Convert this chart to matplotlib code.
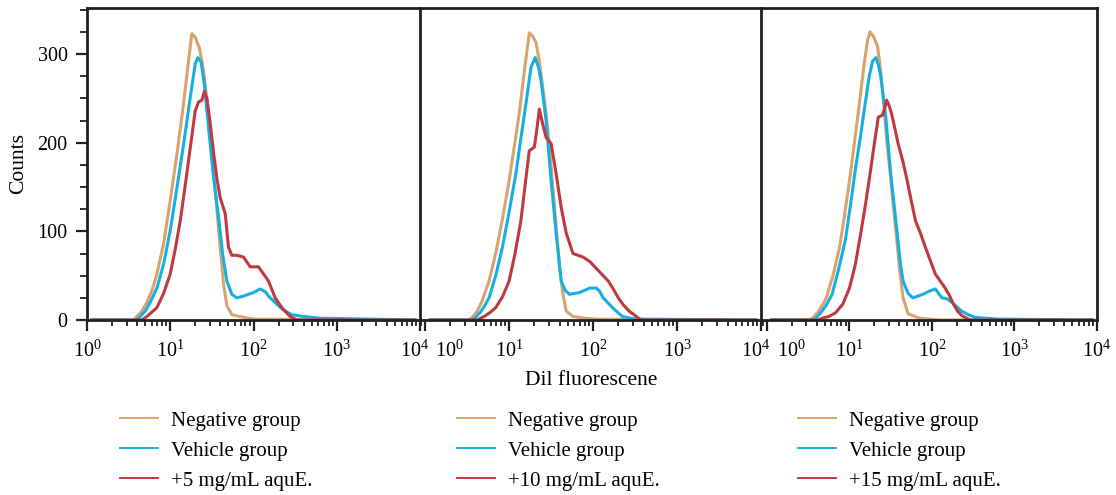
import numpy as np
import matplotlib
matplotlib.use("Agg")
import matplotlib.pyplot as plt
from matplotlib.lines import Line2D
from matplotlib.ticker import FixedLocator, MultipleLocator, LogLocator, NullFormatter
import matplotlib.transforms as mtransforms

plt.rcParams['font.family'] = 'serif'
plt.rcParams['font.serif'] = ['Liberation Serif', 'DejaVu Serif']
plt.rcParams['mathtext.fontset'] = 'custom'
plt.rcParams['mathtext.rm'] = 'Liberation Serif'

# histogram traces: log10(fluorescence) positions and counts
neg1_x = [0.05, 0.56, 0.60, 0.66, 0.72, 0.78, 0.84, 0.92, 1.00, 1.08, 1.16, 1.22, 1.26, 1.30, 1.35, 1.40, 1.45,
          1.50, 1.55, 1.60, 1.64, 1.68, 1.74, 1.88, 2.00, 3.95]
neg1_y = [0, 0, 4, 10, 20, 33, 52, 86, 135, 187, 244, 293, 323, 319, 307, 281, 240,
          187, 135, 82, 41, 16, 6, 3, 1, 0]
veh1_x = [0.05, 0.60, 0.64, 0.70, 0.76, 0.84, 0.92, 1.00, 1.08, 1.16, 1.24, 1.30, 1.33, 1.37, 1.41, 1.46, 1.52,
          1.58, 1.63, 1.68, 1.74, 1.80, 1.88, 2.00, 2.08, 2.14, 2.20, 2.28, 2.36, 2.46, 2.60, 2.80, 3.95]
veh1_y = [0, 0, 4, 10, 20, 36, 63, 101, 149, 198, 251, 289, 296, 291, 266, 217, 161,
          116, 74, 44, 29, 25, 27, 31, 35, 32, 25, 18, 11, 6, 4, 2, 0]
trt1_x = [0.05, 0.66, 0.72, 0.78, 0.84, 0.92, 1.00, 1.06, 1.12, 1.17, 1.22, 1.26, 1.30, 1.34, 1.38, 1.41, 1.44,
          1.48, 1.52, 1.56, 1.60, 1.66, 1.70, 1.74, 1.80, 1.88, 1.96, 2.06, 2.12, 2.18, 2.26, 2.34, 2.44, 2.52, 3.95]
trt1_y = [0, 0, 4, 9, 14, 30, 52, 80, 112, 145, 180, 208, 236, 246, 248, 258, 250,
          222, 189, 160, 138, 120, 82, 73, 73, 71, 60, 60, 52, 44, 25, 14, 4, 0, 0]

neg2_x = [0.05, 0.52, 0.56, 0.62, 0.68, 0.76, 0.84, 0.92, 1.00, 1.06, 1.12, 1.18, 1.24, 1.28, 1.32, 1.36, 1.40,
          1.44, 1.48, 1.52, 1.56, 1.60, 1.64, 1.68, 1.76, 1.90, 2.04, 3.95]
neg2_y = [0, 0, 3, 10, 22, 44, 75, 114, 157, 195, 233, 280, 324, 320, 313, 292, 263,
          232, 196, 150, 105, 60, 30, 10, 4, 2, 1, 0]
veh2_x = [0.05, 0.56, 0.60, 0.66, 0.72, 0.76, 0.84, 0.92, 1.00, 1.08, 1.14, 1.20, 1.26, 1.31, 1.35, 1.38, 1.44,
          1.50, 1.56, 1.62, 1.67, 1.72, 1.84, 1.96, 2.04, 2.08, 2.12, 2.18, 2.23, 2.30, 2.35, 2.50, 3.95]
veh2_y = [0, 0, 3, 9, 18, 25, 50, 82, 122, 165, 205, 244, 285, 296, 285, 270, 225,
          157, 98, 44, 33, 29, 31, 36, 36, 32, 25, 19, 14, 8, 4, 1, 0]
trt2_x = [0.05, 0.62, 0.66, 0.72, 0.78, 0.84, 0.92, 1.00, 1.07, 1.14, 1.20, 1.24, 1.30, 1.33, 1.36, 1.40, 1.44,
          1.50, 1.56, 1.62, 1.68, 1.76, 1.88, 1.96, 2.04, 2.12, 2.18, 2.24, 2.30, 2.36, 2.43, 2.50, 2.57, 3.95]
trt2_y = [0, 0, 2, 5, 9, 14, 26, 44, 75, 112, 160, 191, 195, 215, 238, 221, 206,
          199, 165, 127, 98, 75, 71, 66, 58, 50, 44, 35, 25, 17, 10, 5, 0, 0]

neg3_x = [0.05, 0.52, 0.56, 0.62, 0.68, 0.72, 0.80, 0.88, 0.94, 1.00, 1.06, 1.12, 1.18, 1.22, 1.25, 1.29, 1.34,
          1.38, 1.42, 1.46, 1.49, 1.53, 1.57, 1.61, 1.65, 1.71, 1.85, 2.10, 3.95]
neg3_y = [0, 0, 3, 9, 18, 25, 50, 82, 118, 157, 200, 244, 290, 316, 325, 320, 309,
          280, 240, 195, 169, 130, 94, 55, 25, 7, 2, 0, 0]
veh3_x = [0.05, 0.56, 0.60, 0.66, 0.72, 0.79, 0.86, 0.95, 1.01, 1.07, 1.13, 1.19, 1.24, 1.28, 1.32, 1.35, 1.38,
          1.44, 1.50, 1.57, 1.62, 1.65, 1.71, 1.77, 1.89, 1.98, 2.04, 2.12, 2.18, 2.24, 2.30, 2.36, 2.44, 2.52,
          2.80, 3.95]
veh3_y = [0, 0, 3, 9, 17, 29, 54, 90, 128, 169, 205, 244, 275, 292, 296, 288, 274,
          229, 165, 105, 62, 44, 30, 25, 29, 33, 35, 25, 24, 20, 15, 10, 6, 3, 1, 0]
trt3_x = [0.05, 0.62, 0.67, 0.75, 0.83, 0.92, 1.00, 1.07, 1.13, 1.19, 1.25, 1.30, 1.35, 1.40, 1.43, 1.45, 1.48,
          1.51, 1.55, 1.59, 1.65, 1.70, 1.75, 1.80, 1.86, 1.92, 1.98, 2.04, 2.10, 2.16, 2.21, 2.26, 2.31, 2.36,
          2.46, 3.95]
trt3_y = [0, 0, 2, 4, 8, 18, 36, 62, 94, 128, 165, 198, 229, 231, 240, 248, 242,
          233, 216, 199, 178, 157, 134, 112, 98, 82, 67, 52, 44, 36, 28, 18, 10, 5, 0, 0]

series_labels = ['Negative group', 'Vehicle group']
dose_labels = ['+5 mg/mL aquE.', '+10 mg/mL aquE.', '+15 mg/mL aquE.']
colors = ['#D9A36E', '#17AEE2', '#BE3A3E']

panels = [
    [(neg1_x, neg1_y), (veh1_x, veh1_y), (trt1_x, trt1_y)],
    [(neg2_x, neg2_y), (veh2_x, veh2_y), (trt2_x, trt2_y)],
    [(neg3_x, neg3_y), (veh3_x, veh3_y), (trt3_x, trt3_y)],
]

W, H = 1116, 495
fig = plt.figure(figsize=(W / 100, H / 100), dpi=100)

# axes boxes in pixels: left, right, top, bottom
boxes = [(87, 420, 8, 320), (421, 761, 8, 320), (762, 1097, 8, 320)]
xlefts = [1.0, 10 ** -0.05, 10 ** -0.06]
ink = '#231F20'

axes = []
for i, (l, r, t, b) in enumerate(boxes):
    ax = fig.add_axes([l / W, 1 - b / H, (r - l) / W, (b - t) / H])
    ax.patch.set_visible(False)
    for (xs, ys), c in zip(panels[i], colors):
        ax.plot(10 ** np.array(xs), ys, color=c, lw=2.2,
                solid_joinstyle='round', solid_capstyle='round')
    ax.set_xscale('log')
    ax.set_xlim(xlefts[i], 1e4)
    ax.set_ylim(0, 352)
    for s in ax.spines.values():
        s.set_linewidth(2.0)
        s.set_color(ink)
    if i > 0:
        # neighbour's right spine already draws the divider
        ax.spines['left'].set_visible(False)
    ax.xaxis.set_major_locator(FixedLocator([1, 10, 100, 1000, 10000]))
    ax.set_xticklabels([r'$10^{%d}$' % k for k in range(5)])
    ax.xaxis.set_minor_locator(LogLocator(base=10, subs=np.arange(2, 10), numticks=20))
    ax.xaxis.set_minor_formatter(NullFormatter())
    ax.tick_params(axis='x', which='major', direction='out', length=8, width=1.6,
                   color=ink, labelsize=14.5, pad=6)
    ax.tick_params(axis='x', which='minor', direction='out', length=4, width=1.3, color=ink)
    if i == 0:
        ax.yaxis.set_major_locator(FixedLocator([0, 100, 200, 300]))
        ax.yaxis.set_minor_locator(MultipleLocator(25))
        ax.tick_params(axis='y', which='major', direction='out', length=8, width=1.6,
                       color=ink, labelsize=14.5, pad=6)
        ax.tick_params(axis='y', which='minor', direction='out', length=5, width=1.3, color=ink)
        ax.set_ylabel('Counts', fontsize=15.5, labelpad=7)
    else:
        ax.tick_params(axis='y', which='both', left=False, labelleft=False)
    axes.append(ax)

axes[1].set_xlabel('Dil fluorescene', fontsize=15.5, labelpad=7)

# nudge crowded end labels apart where panels meet
fig.canvas.draw()
for i, ax in enumerate(axes):
    ticks = ax.xaxis.get_major_ticks()
    if i > 0:
        off = mtransforms.ScaledTranslation(24 / 100, 0, fig.dpi_scale_trans)
        ticks[0].label1.set_transform(ticks[0].label1.get_transform() + off)
    if i < 2:
        off = mtransforms.ScaledTranslation(-5 / 100, 0, fig.dpi_scale_trans)
        ticks[-1].label1.set_transform(ticks[-1].label1.get_transform() + off)

# one legend under each panel
legend_x = [120, 457, 798]
for i in range(3):
    handles = [Line2D([], [], color=c, lw=1.4) for c in colors]
    labels = series_labels + [dose_labels[i]]
    fig.legend(handles, labels, loc='upper left',
               bbox_to_anchor=(legend_x[i] / W, 1 - 411 / H),
               frameon=False, fontsize=15, handlelength=1.8, handletextpad=0.65,
               labelspacing=0.5, borderpad=0, borderaxespad=0)

fig.savefig('out.png', dpi=100)
